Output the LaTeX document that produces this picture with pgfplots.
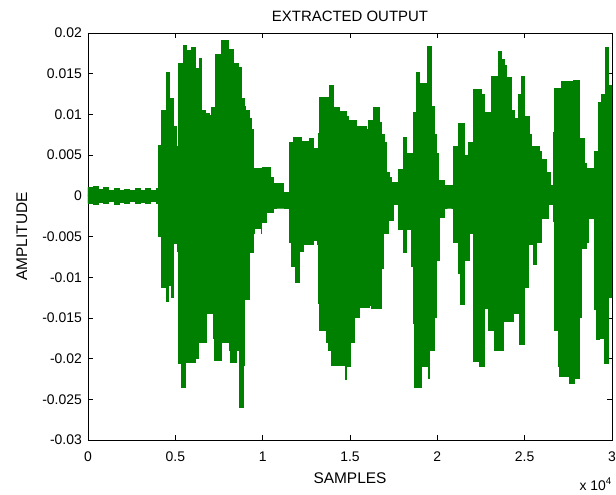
\documentclass[border=0pt]{standalone}
\usepackage{fontspec}
\setmainfont{Liberation Sans}
\usepackage{pgfplots}
\usepackage{pgfplotstable}
\pgfplotsset{compat=1.18}
\definecolor{wavegreen}{RGB}{0,128,0}

% upper envelope of the extracted signal (sample, amplitude)
\pgfplotstableread{
x y
0 0.0010
300 0.0012
600 0.0008
900 0.0010
1200 0.0007
1500 0.0009
1800 0.0006
2100 0.0008
2400 0.0007
2700 0.0009
3000 0.0006
3300 0.0009
3600 0.0007
3900 0.0009
4030 0.0010
4060 0.0062
4210 0.0062
4230 0.0105
4460 0.0105
4500 0.0151
4640 0.0151
4690 0.0119
4850 0.0119
4885 0.0085
5060 0.0085
5080 0.0060
5150 0.0060
5200 0.0163
5420 0.0163
5450 0.0185
5600 0.0185
5650 0.0178
5850 0.0160
5935 0.0182
6030 0.0182
6126 0.0157
6316 0.0157
6412 0.0169
6500 0.0169
6520 0.0105
6640 0.0105
6700 0.0101
6984 0.0099
7080 0.0109
7270 0.0109
7328 0.0173
7557 0.0173
7652 0.0191
7939 0.0191
8034 0.0180
8320 0.0178
8340 0.0163
8511 0.0163
8606 0.0158
8702 0.0158
8797 0.0120
8988 0.0110
9000 0.0105
9274 0.0095
9370 0.0081
9465 0.0034
10000 0.0035
10420 0.0033
10430 0.0023
10610 0.0015
10992 0.0015
11182 0.0004
11469 0.0003
11526 0.0065
11755 0.0072
12137 0.0072
12200 0.0067
12650 0.0067
12709 0.0070
12900 0.0058
13150 0.0058
13186 0.0077
13282 0.0121
13663 0.0121
13854 0.0136
13950 0.0136
14045 0.0108
14236 0.0108
14427 0.0103
14809 0.0097
14900 0.0093
15400 0.0085
15954 0.0081
16049 0.0093
16144 0.0093
16335 0.0108
16621 0.0108
16717 0.0090
16812 0.0075
17003 0.0065
17099 0.0029
17289 0.0023
17385 0.0016
17671 0.0016
17767 0.0032
17958 0.0032
18053 0.0072
18148 0.0072
18244 0.0052
18530 0.0052
18625 0.0102
18816 0.0152
18911 0.0152
19007 0.0138
19388 0.0120
19427 0.0183
19618 0.0183
19675 0.0110
19866 0.0075
19961 0.0052
20056 0.0019
20343 0.0019
20438 0.0013
20724 0.0013
20915 0.0060
21106 0.0060
21201 0.0089
21392 0.0089
21583 0.0050
21774 0.0066
21965 0.0066
22060 0.0130
22537 0.0124
22728 0.0102
22919 0.0102
23110 0.0146
23301 0.0146
23491 0.0177
23587 0.0177
23682 0.0168
23873 0.0160
23969 0.0145
24160 0.0145
24255 0.0105
24445 0.0095
24636 0.0124
24780 0.0124
24827 0.0146
25018 0.0097
25304 0.0075
25400 0.0060
25877 0.0055
25972 0.0045
26163 0.0045
26258 0.0029
26449 0.0029
26480 0.0013
26640 0.0013
26678 0.0078
26736 0.0132
27022 0.0132
27117 0.0140
27594 0.0140
27785 0.0142
28071 0.0142
28167 0.0070
28453 0.0040
28549 0.0033
28930 0.0033
29025 0.0055
29121 0.0055
29216 0.0115
29407 0.0125
29655 0.0182
29694 0.0182
29789 0.0135
30000 0.0110
}\envtop

% lower envelope of the extracted signal (sample, amplitude)
\pgfplotstableread{
x y
0 -0.0009
300 -0.0011
600 -0.0008
900 -0.0010
1200 -0.0007
1500 -0.0011
1800 -0.0008
2100 -0.0009
2400 -0.0007
2700 -0.0010
3000 -0.0008
3300 -0.0009
3600 -0.0007
3900 -0.0009
4030 -0.0010
4060 -0.0050
4200 -0.0050
4217 -0.0113
4465 -0.0113
4480 -0.0130
4560 -0.0130
4599 -0.0110
4790 -0.0125
4885 -0.0058
5076 -0.0058
5114 -0.0068
5200 -0.0206
5362 -0.0235
5553 -0.0235
5600 -0.0205
6126 -0.0200
6316 -0.0144
6412 -0.0180
6698 -0.0180
6793 -0.0145
7175 -0.0175
7270 -0.0202
7557 -0.0202
7652 -0.0180
8129 -0.0190
8150 -0.0205
8416 -0.0205
8511 -0.0190
8664 -0.0190
8680 -0.0260
8797 -0.0260
8893 -0.0208
8988 -0.0128
9179 -0.0128
9274 -0.0070
9370 -0.0070
9465 -0.0046
9560 -0.0040
9942 -0.0046
9960 -0.0033
10133 -0.0033
10229 -0.0021
10515 -0.0021
10610 -0.0015
10992 -0.0015
11469 -0.0010
11526 -0.0057
11660 -0.0087
11851 -0.0087
11908 -0.0106
12041 -0.0106
12137 -0.0068
12328 -0.0060
12900 -0.0055
13150 -0.0060
13186 -0.0132
13282 -0.0165
13663 -0.0180
13759 -0.0190
13950 -0.0208
14427 -0.0208
14714 -0.0226
14809 -0.0210
15000 -0.0180
15190 -0.0180
15286 -0.0150
15572 -0.0137
16144 -0.0135
16240 -0.0138
16717 -0.0138
16812 -0.0089
16908 -0.0046
17099 -0.0046
17194 -0.0030
17385 -0.0030
17480 -0.0011
17671 -0.0011
17767 -0.0042
17958 -0.0042
18053 -0.0070
18150 -0.0070
18244 -0.0042
18435 -0.0042
18530 -0.0087
18625 -0.0157
18721 -0.0235
19007 -0.0235
19102 -0.0210
19484 -0.0225
19579 -0.0190
19866 -0.0150
19961 -0.0079
20152 -0.0027
20343 -0.0027
20438 -0.0015
20724 -0.0015
20915 -0.0057
21106 -0.0057
21201 -0.0095
21297 -0.0095
21335 -0.0134
21450 -0.0134
21583 -0.0079
21774 -0.0079
21869 -0.0046
21965 -0.0046
22060 -0.0204
22251 -0.0204
22442 -0.0210
22633 -0.0210
22728 -0.0138
22919 -0.0165
23205 -0.0165
23301 -0.0190
23587 -0.0190
23778 -0.0155
24160 -0.0155
24350 -0.0145
24636 -0.0145
24732 -0.0183
24923 -0.0183
25018 -0.0113
25209 -0.0060
25400 -0.0060
25495 -0.0085
25590 -0.0085
25686 -0.0057
25877 -0.0057
25972 -0.0028
26258 -0.0028
26354 -0.0011
26545 -0.0011
26640 -0.0032
26736 -0.0165
26927 -0.0210
27022 -0.0222
27308 -0.0222
27594 -0.0230
27785 -0.0230
27880 -0.0224
28071 -0.0224
28167 -0.0150
28262 -0.0065
28549 -0.0057
28644 -0.0028
28930 -0.0028
29025 -0.0140
29121 -0.0177
29312 -0.0175
29503 -0.0175
29598 -0.0206
29700 -0.0206
29789 -0.0125
30000 -0.0110
}\envbot

\begin{document}
\begin{tikzpicture}
\path[use as bounding box] (-88bp,-55bp) rectangle (528bp,440bp);
\begin{axis}[
  at={(0,0)}, anchor=south west,
  width=524bp, height=407bp, scale only axis,
  xmin=0, xmax=30000, ymin=-0.03, ymax=0.02,
  xtick={0,5000,10000,15000,20000,25000,30000},
  xticklabels={0,0.5,1,1.5,2,2.5,3},
  ytick={-0.03,-0.025,-0.02,-0.015,-0.01,-0.005,0,0.005,0.01,0.015,0.02},
  yticklabels={-0.03,-0.025,-0.02,-0.015,-0.01,-0.005,0,0.005,0.01,0.015,0.02},
  scaled ticks=false,
  tick align=inside,
  major tick length=5bp,
  tick style={black, line width=0.6bp},
  axis line style={black, line width=0.8bp},
  tick label style={font=\fontsize{14}{16}\selectfont},
  xticklabel style={anchor=base, yshift=-21bp},
  yticklabel style={anchor=east, inner sep=0pt, xshift=-6bp},
  title={EXTRACTED OUTPUT},
  title style={font=\fontsize{15}{18}\selectfont, at={(axis description cs:0.5,1)}, anchor=base, yshift=6bp},
  xlabel={SAMPLES},
  xlabel style={font=\fontsize{15.5}{18}\selectfont, at={(axis description cs:0.5,0)}, anchor=base, yshift=-43bp},
  ylabel={AMPLITUDE},
  ylabel style={font=\fontsize{15.5}{18}\selectfont, at={(axis description cs:-0.1164,0.5)}, anchor=base},
]
% each half of the waveform is filled down to the zero line
\addplot[const plot, draw=wavegreen, fill=wavegreen, line width=1bp] table[x=x, y=y] {\envtop} \closedcycle;
\addplot[const plot, draw=wavegreen, fill=wavegreen, line width=1bp] table[x=x, y=y] {\envbot} \closedcycle;
\end{axis}
% exponent of the x tick labels
\node[anchor=base east, inner sep=0pt, font=\fontsize{14}{16}\selectfont]
  at (524bp,-50bp) {x 10\textsuperscript{4}};
\end{tikzpicture}
\end{document}
